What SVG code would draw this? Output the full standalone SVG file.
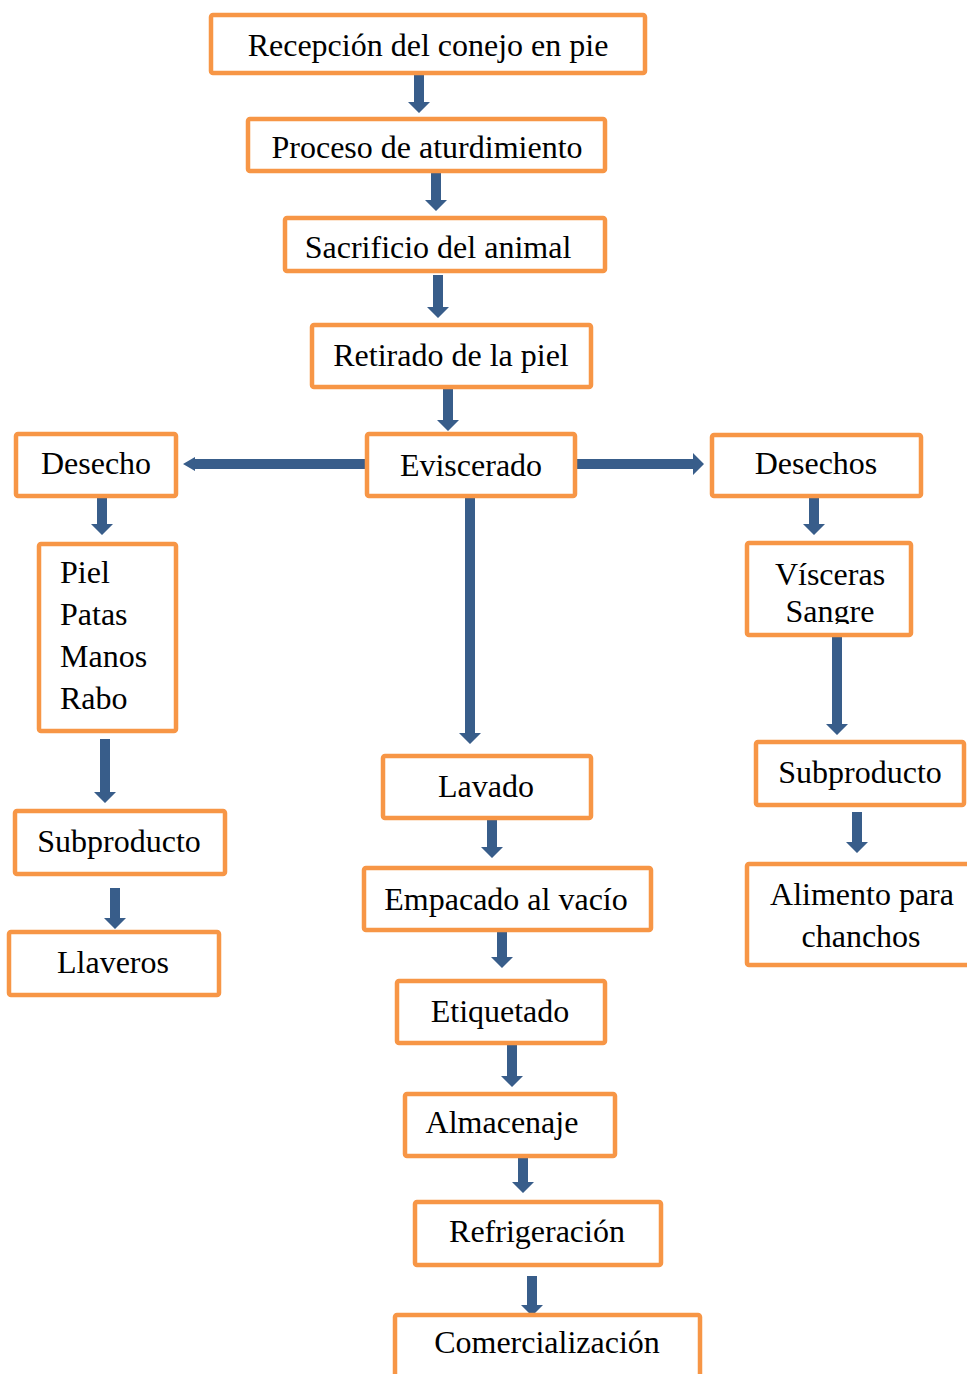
<svg xmlns="http://www.w3.org/2000/svg" width="967" height="1374" viewBox="0 0 967 1374">
<style>
.box{fill:#fff;stroke:#F79646;stroke-width:4.5}
.t{font-family:"Liberation Serif","Times New Roman",serif;font-size:32px;fill:#000;text-anchor:middle}
.tl{font-family:"Liberation Serif","Times New Roman",serif;font-size:32px;fill:#000}
.arr{fill:#385D8A}
</style>
<defs>
<clipPath id="clipV"><rect x="747" y="543" width="164" height="81"/></clipPath>
</defs>
<rect width="967" height="1374" fill="#fff"/>
<g id="connectors">
<path class="arr" d="M414 75 H424 V102 H430 L419 113 L408 102 H414 Z"/>
<path class="arr" d="M431 173 H441 V200 H447 L436 211 L425 200 H431 Z"/>
<path class="arr" d="M433 275 H443 V307 H449 L438 318 L427 307 H433 Z"/>
<path class="arr" d="M443 389 H453 V420 H459 L448 431 L437 420 H443 Z"/>
<path class="arr" d="M366 459 V469 H195 V471 L183 464 L195 457 V459 Z"/>
<path class="arr" d="M577 459 H693 V453 L704 464 L693 475 V469 H577 Z"/>
<path class="arr" d="M97 498 H107 V524 H113 L102 535 L91 524 H97 Z"/>
<path class="arr" d="M100 739 H110 V792 H116 L105 803 L94 792 H100 Z"/>
<path class="arr" d="M110 888 H120 V918 H126 L115 929 L104 918 H110 Z"/>
<path class="arr" d="M465 498 H475 V733 H481 L470 744 L459 733 H465 Z"/>
<path class="arr" d="M487 820 H497 V847 H503 L492 858 L481 847 H487 Z"/>
<path class="arr" d="M497 932 H507 V957 H513 L502 968 L491 957 H497 Z"/>
<path class="arr" d="M507 1045 H517 V1076 H523 L512 1087 L501 1076 H507 Z"/>
<path class="arr" d="M518 1157 H528 V1182 H534 L523 1193 L512 1182 H518 Z"/>
<path class="arr" d="M527 1276 H537 V1305 H543 L532 1316 L521 1305 H527 Z"/>
<path class="arr" d="M809 498 H819 V524 H825 L814 535 L803 524 H809 Z"/>
<path class="arr" d="M832 637 H842 V724 H848 L837 735 L826 724 H832 Z"/>
<path class="arr" d="M852 812 H862 V842 H868 L857 853 L846 842 H852 Z"/>
</g>
<g id="n-recepcion"><rect class="box" x="211" y="15" width="434" height="58" rx="2"/><text class="t" x="428" y="56">Recepción del conejo en pie</text></g>
<g id="n-proceso"><rect class="box" x="248" y="119" width="357" height="52" rx="2"/><text class="t" x="427" y="158">Proceso de aturdimiento</text></g>
<g id="n-sacrificio"><rect class="box" x="285" y="218" width="320" height="53" rx="2"/><text class="t" x="438" y="258">Sacrificio del animal</text></g>
<g id="n-retirado"><rect class="box" x="312" y="325" width="279" height="62" rx="2"/><text class="t" x="451" y="366">Retirado de la piel</text></g>
<g id="n-eviscerado"><rect class="box" x="367" y="434" width="208" height="62" rx="2"/><text class="t" x="471" y="476">Eviscerado</text></g>
<g id="n-desecho"><rect class="box" x="16" y="434" width="160" height="62" rx="2"/><text class="t" x="96" y="474">Desecho</text></g>
<g id="n-piel"><rect class="box" x="39" y="544" width="137" height="187" rx="2"/><text class="tl" x="60" y="583">Piel</text><text class="tl" x="60" y="625">Patas</text><text class="tl" x="60" y="667">Manos</text><text class="tl" x="60" y="709">Rabo</text></g>
<g id="n-subproducto-l"><rect class="box" x="15" y="811" width="210" height="63" rx="2"/><text class="t" x="119" y="852">Subproducto</text></g>
<g id="n-llaveros"><rect class="box" x="9" y="932" width="210" height="63" rx="2"/><text class="t" x="113" y="973">Llaveros</text></g>
<g id="n-lavado"><rect class="box" x="383" y="756" width="208" height="62" rx="2"/><text class="t" x="486" y="797">Lavado</text></g>
<g id="n-empacado"><rect class="box" x="364" y="868" width="287" height="62" rx="2"/><text class="t" x="506" y="910">Empacado al vacío</text></g>
<g id="n-etiquetado"><rect class="box" x="397" y="981" width="208" height="62" rx="2"/><text class="t" x="500" y="1022">Etiquetado</text></g>
<g id="n-almacenaje"><rect class="box" x="405" y="1094" width="210" height="62" rx="2"/><text class="t" x="502" y="1133">Almacenaje</text></g>
<g id="n-refrigeracion"><rect class="box" x="415" y="1202" width="246" height="63" rx="2"/><text class="t" x="537" y="1242">Refrigeración</text></g>
<g id="n-comercializacion"><rect class="box" x="395" y="1315" width="305" height="80" rx="2"/><text class="t" x="547" y="1353">Comercialización</text></g>
<g id="n-desechos"><rect class="box" x="712" y="435" width="209" height="61" rx="2"/><text class="t" x="816" y="474">Desechos</text></g>
<g id="n-visceras"><rect class="box" x="747" y="543" width="164" height="92" rx="2"/><g clip-path="url(#clipV)"><text class="t" x="830" y="585">Vísceras</text><text class="t" x="830" y="622">Sangre</text></g></g>
<g id="n-subproducto-r"><rect class="box" x="756" y="742" width="208" height="63" rx="2"/><text class="t" x="860" y="783">Subproducto</text></g>
<g id="n-alimento"><rect class="box" x="747" y="864" width="230" height="101" rx="2"/><text class="t" x="862" y="905">Alimento para</text><text class="t" x="861" y="947">chanchos</text></g>
</svg>
